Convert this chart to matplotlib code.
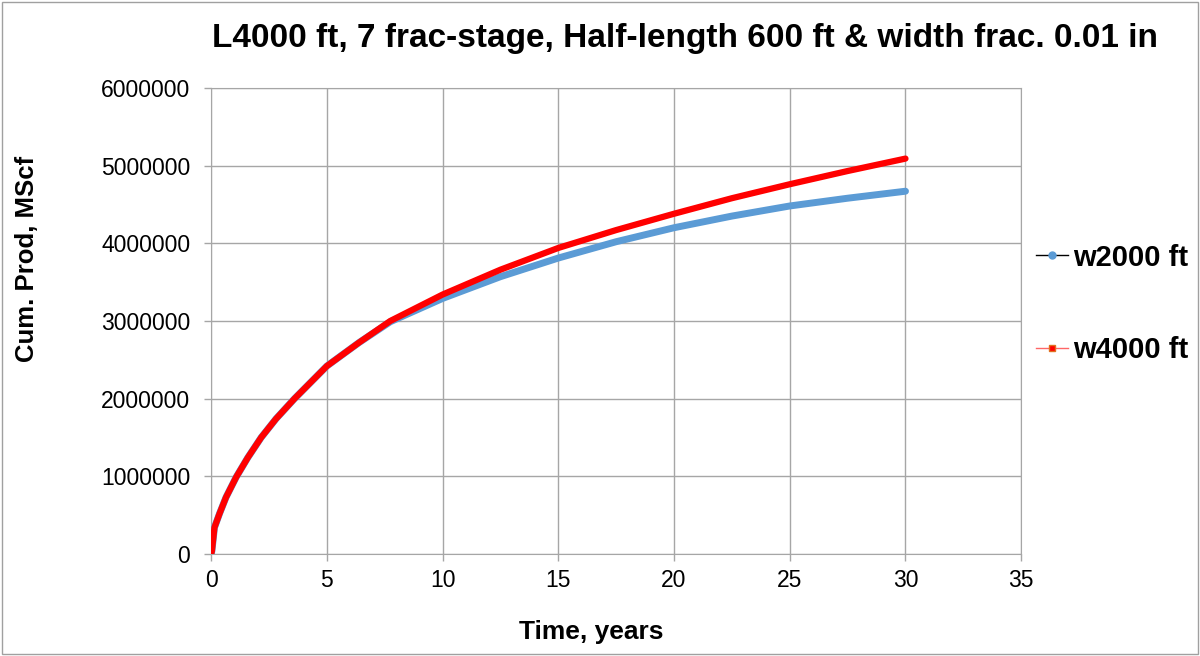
import matplotlib.pyplot as plt
from matplotlib.lines import Line2D

# time in years and cumulative production (MScf)
t_years = [0, 0.03, 0.14, 0.36, 0.64, 1.08, 1.58, 2.16, 2.8, 3.6, 5, 6.38, 7.74, 10,
           12.5, 15, 17.5, 20, 22.5, 25, 27.5, 30]
cum_w2000 = [0, 40000, 340000, 520000, 730000, 990000, 1240000, 1500000, 1740000,
             2000000, 2420000, 2720000, 2990000, 3290000, 3570000, 3810000, 4020000,
             4200000, 4350000, 4480000, 4580000, 4670000]
cum_w4000 = [0, 40000, 340000, 520000, 730000, 990000, 1240000, 1500000, 1740000,
             2000000, 2420000, 2720000, 3000000, 3340000, 3660000, 3940000, 4170000,
             4380000, 4580000, 4760000, 4930000, 5090000]

x_ticks = [0, 5, 10, 15, 20, 25, 30, 35]
y_ticks = [0, 1000000, 2000000, 3000000, 4000000, 5000000, 6000000]

blue = "#5b9bd5"
red = "#ff0000"
grid_col = "#a6a6a6"

plt.rcParams["font.family"] = ["Liberation Sans", "DejaVu Sans"]

fig = plt.figure(figsize=(12, 6.56), dpi=100)
ax = fig.add_axes([0.176, 0.1555, 0.675, 0.7105])

ax.plot(t_years, cum_w2000, color=blue, lw=5, solid_capstyle="round",
        solid_joinstyle="round", zorder=3)
ax.plot(t_years, cum_w4000, color=red, lw=4.5, solid_capstyle="round",
        solid_joinstyle="round", zorder=4)

ax.set_xlim(0, 35)
ax.set_ylim(0, 6000000)
ax.set_xticks(x_ticks)
ax.set_yticks(y_ticks)
ax.set_yticklabels([str(v) for v in y_ticks])
ax.tick_params(labelsize=16.5, color=grid_col, length=5, width=1)
ax.tick_params(axis="y", pad=10)
ax.tick_params(axis="x", pad=6)
ax.grid(color=grid_col, lw=1)
ax.set_axisbelow(True)
for s in ax.spines.values():
    s.set_color(grid_col)

fig.text(0.493, 0.037, "Time, years", ha="center", va="center",
         fontsize=19, fontweight="bold")
fig.text(0.0225, 0.605, "Cum. Prod, MScf", ha="center", va="center",
         rotation=90, fontsize=18.5, fontweight="bold")
fig.text(0.571, 0.942, "L4000 ft, 7 frac-stage, Half-length 600 ft & width frac. 0.01 in",
         ha="center", va="center", fontsize=24, fontweight="bold")

handles = [
    Line2D([0], [0], color="black", lw=1, marker="o", ms=5, mfc=blue, mec=blue),
    Line2D([0], [0], color="#ff6666", lw=1, marker="s", ms=5, mfc=red, mec="#e07020"),
]
fig.legend(handles, ["w2000 ft", "w4000 ft"], loc="center left",
           bbox_to_anchor=(0.846, 0.537), frameon=False, handlelength=1.1,
           handletextpad=0.2, borderpad=0.2, labelspacing=2.2,
           prop={"size": 21, "weight": "bold"})

# thin frame round the whole figure
fig.patches.append(plt.Rectangle((0.002, 0.003), 0.996, 0.994, transform=fig.transFigure,
                                 fill=False, edgecolor="#a0a0a0", lw=1))

fig.savefig("out.png", dpi=100)
